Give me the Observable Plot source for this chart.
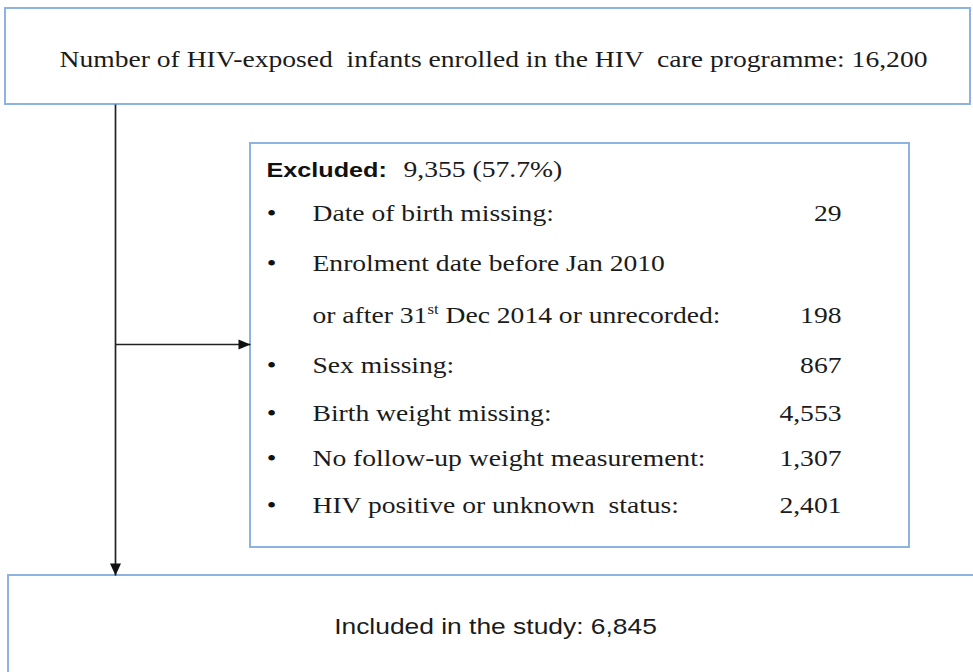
<!DOCTYPE html>
<html>
<head>
<meta charset="utf-8">
<script src="https://cdn.jsdelivr.net/npm/d3@7"></script>
<script src="https://cdn.jsdelivr.net/npm/@observablehq/plot@0.6"></script>
<style>
  html, body { margin: 0; padding: 0; background: #ffffff; }
  #chart svg { display: block; background: #ffffff; }
  #chart text { white-space: pre; }
</style>
</head>
<body>
<div id="chart"></div>
<script>
// ---------------- DATA ----------------
const enrolledLabel = "Number of HIV-exposed  infants enrolled in the HIV  care programme:";
const enrolledCount = 16200;
const excludedLabel = "Excluded:";
const excludedCount = 9355;
const excludedPercent = 57.7;
const reasonLines = [
  "Date of birth missing:",
  "Enrolment date before Jan 2010",
  "or after 31st Dec 2014 or unrecorded:",
  "Sex missing:",
  "Birth weight missing:",
  "No follow-up weight measurement:",
  "HIV positive or unknown  status:"
];
const reasonCounts = [29, null, 198, 867, 4553, 1307, 2401];
const reasonBullets = [true, true, false, true, true, true, true];
const includedLabel = "Included in the study:";
const includedCount = 6845;

// ---------------- LAYOUT (pixel space of the 973x672 picture) ----------------
const W = 973, H = 672;
const serif = "Liberation Serif", sans = "Liberation Sans";
const serifSize = 23, stretch = 1.2;
const boxLayout = [
  {x1: 5, x2: 970, y1: 8, y2: 104},      // enrolled
  {x1: 250, x2: 909, y1: 143, y2: 547},  // excluded
  {x1: 8, x2: 1000, y1: 575, y2: 720}    // included (runs off the picture)
];
const trunkX = 115, branchY = 344;
const rowBaselines = [220, 270, 322, 372, 420, 465, 512];
const bulletX = 271, reasonX = 312, countRight = 841;
const mid = (baseline, fs) => baseline - 0.32 * fs;

const fmt = d3.format(",");

// ---------------- TABLES ----------------
const arrows = [
  {x1: trunkX, y1: boxLayout[0].y2, x2: trunkX, y2: boxLayout[2].y1, dir: "down"},
  {x1: trunkX, y1: branchY, x2: boxLayout[1].x1, y2: branchY, dir: "right"}
];
const rows = reasonLines.map((label, i) => ({
  label,
  count: reasonCounts[i],
  bullet: reasonBullets[i],
  y: mid(rowBaselines[i], serifSize)
}));

const downTri = {draw(ctx) { ctx.moveTo(0, 0); ctx.lineTo(-5.5, -12); ctx.lineTo(5.5, -12); ctx.closePath(); }};
const rightTri = {draw(ctx) { ctx.moveTo(0, 0); ctx.lineTo(-12, -5); ctx.lineTo(-12, 5); ctx.closePath(); }};

const ink = "#1b1b1b";

const chart = Plot.plot({
  width: W,
  height: H,
  margin: 0,
  x: {domain: [0, W], range: [0, W], axis: null},
  y: {domain: [0, H], range: [0, H], axis: null},
  marks: [
    Plot.rect(boxLayout, {x1: "x1", x2: "x2", y1: "y1", y2: "y2", fill: "white", stroke: "#8db3e2", strokeWidth: 2}),
    Plot.link(arrows, {x1: "x1", y1: "y1", x2: "x2", y2: "y2", stroke: "#222", strokeWidth: 1.7}),
    Plot.dot(arrows.filter(d => d.dir === "down"), {x: "x2", y: "y2", symbol: downTri, fill: "#111", stroke: "none"}),
    Plot.dot(arrows.filter(d => d.dir === "right"), {x: "x2", y: "y2", symbol: rightTri, fill: "#111", stroke: "none"}),
    // top box
    Plot.text([{t: enrolledLabel + " " + fmt(enrolledCount), x: 493, y: mid(66, serifSize)}],
      {x: "x", y: "y", text: "t", fontFamily: serif, fontSize: serifSize, fill: ink, textAnchor: "middle"}),
    // excluded header
    Plot.text([{t: excludedLabel, x: 266, y: mid(176, 21)}],
      {x: "x", y: "y", text: "t", fontFamily: sans, fontWeight: "bold", fontSize: 21, fill: "#111", textAnchor: "start"}),
    Plot.text([{t: fmt(excludedCount) + " (" + excludedPercent + "%)", x: 403, y: mid(176, serifSize)}],
      {x: "x", y: "y", text: "t", fontFamily: serif, fontSize: serifSize, fill: ink, textAnchor: "start"}),
    // bullets
    Plot.text(rows.filter(d => d.bullet), {x: () => bulletX, y: "y", text: () => "\u2022", fontFamily: serif, fontSize: serifSize, fill: "#111", textAnchor: "middle"}),
    // reasons
    Plot.text(rows, {x: () => reasonX, y: "y", text: "label", fontFamily: serif, fontSize: serifSize, fill: ink, textAnchor: "start"}),
    // counts
    Plot.text(rows.filter(d => d.count != null), {x: () => countRight, y: "y", text: d => fmt(d.count), fontFamily: serif, fontSize: serifSize, fill: ink, textAnchor: "end"}),
    // included
    Plot.text([{t: includedLabel + " " + fmt(includedCount), x: 495, y: mid(633, 22)}],
      {x: "x", y: "y", text: "t", fontFamily: sans, fontSize: 22, fill: ink, textAnchor: "middle"})
  ]
});

document.getElementById("chart").appendChild(chart);

// superscript "st" in "31st"
d3.select(chart).selectAll("text").each(function () {
  if (this.textContent === "or after 31st Dec 2014 or unrecorded:") {
    const t = d3.select(this);
    t.text(null);
    t.append("tspan").text("or after 31");
    t.append("tspan").attr("font-size", 14).attr("dy", -9).text("st");
    t.append("tspan").attr("dy", 9).text(" Dec 2014 or unrecorded:");
  }
});

// horizontal stretch of the lettering, as in the reference
d3.select(chart).selectAll("text").each(function () {
  const tr = this.getAttribute("transform") || "";
  this.setAttribute("transform", tr + " scale(" + stretch + ",1)");
});
</script>
</body>
</html>
